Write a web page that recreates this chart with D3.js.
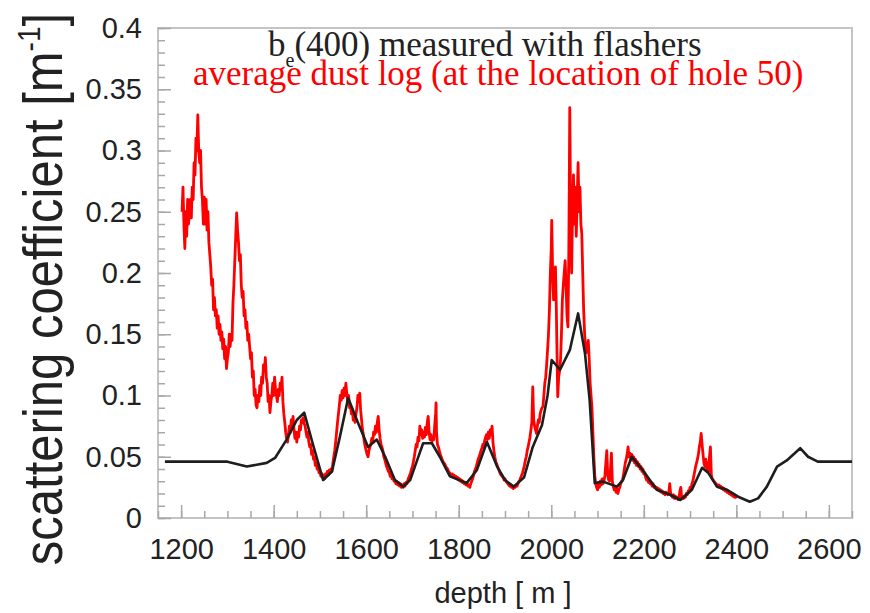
<!DOCTYPE html>
<html>
<head>
<meta charset="utf-8">
<script src="https://cdn.jsdelivr.net/npm/d3@7"></script>
<style>
  body { margin: 0; background: #fff; }
</style>
</head>
<body>
<script>
// axis ticks and labels
const depthTicks = [1200, 1400, 1600, 1800, 2000, 2200, 2400, 2600];
const depthLabels = ["1200", "1400", "1600", "1800", "2000", "2200", "2400", "2600"];
const coefTicks = [0, 0.05, 0.1, 0.15, 0.2, 0.25, 0.3, 0.35, 0.4];
const coefLabels = ["0", "0.05", "0.1", "0.15", "0.2", "0.25", "0.3", "0.35", "0.4"];

// b_e(400) measured with flashers: [depth, coefficient]
const flasherLog = [
  [1165, 0.046], [1300, 0.046], [1342, 0.042], [1385, 0.045], [1403, 0.049], [1428, 0.064],
  [1450, 0.080], [1466, 0.086], [1485, 0.060], [1507, 0.031], [1526, 0.038], [1543, 0.066],
  [1561, 0.098], [1582, 0.078], [1604, 0.058], [1623, 0.064], [1641, 0.050], [1662, 0.031],
  [1680, 0.0256], [1695, 0.031], [1710, 0.047], [1723, 0.061], [1742, 0.061], [1759, 0.050],
  [1781, 0.034], [1817, 0.0285], [1839, 0.039], [1861, 0.062], [1883, 0.042], [1900, 0.031],
  [1919, 0.0256], [1941, 0.033], [1960, 0.058], [1980, 0.076], [1992, 0.100], [2001, 0.129],
  [2019, 0.121], [2040, 0.137], [2058, 0.167], [2073, 0.134], [2083, 0.096], [2094, 0.0285],
  [2112, 0.0297], [2142, 0.0256], [2155, 0.031], [2174, 0.050], [2198, 0.039], [2228, 0.023],
  [2257, 0.019], [2279, 0.0147], [2304, 0.023], [2326, 0.041], [2339, 0.037], [2358, 0.0256],
  [2380, 0.023], [2404, 0.0174], [2429, 0.0133], [2447, 0.016], [2466, 0.0256], [2488, 0.042],
  [2509, 0.047], [2538, 0.057], [2555, 0.050], [2576, 0.046], [2650, 0.046]
];

// average dust log at the location of hole 50: [depth, coefficient]
const dustLog = [
  [1202, 0.25], [1204, 0.27], [1206, 0.24], [1208, 0.22], [1210, 0.25], [1212, 0.23], [1214, 0.26],
  [1216, 0.24], [1218, 0.25], [1220, 0.26], [1222, 0.245], [1224, 0.27], [1226, 0.26], [1228, 0.29],
  [1230, 0.28], [1232, 0.31], [1234, 0.30], [1236, 0.329], [1238, 0.30], [1240, 0.29], [1242, 0.30],
  [1244, 0.27], [1246, 0.26], [1248, 0.24], [1250, 0.262], [1252, 0.24], [1254, 0.26], [1256, 0.235],
  [1258, 0.25], [1260, 0.225], [1262, 0.215], [1264, 0.205], [1266, 0.19], [1268, 0.195], [1270, 0.17],
  [1272, 0.18], [1274, 0.165], [1276, 0.17], [1278, 0.155], [1280, 0.165], [1282, 0.15], [1284, 0.158],
  [1286, 0.145], [1288, 0.152], [1290, 0.138], [1292, 0.146], [1294, 0.13], [1296, 0.14], [1298, 0.122],
  [1300, 0.13], [1302, 0.135], [1304, 0.15], [1306, 0.14], [1308, 0.15], [1310, 0.145], [1312, 0.175],
  [1314, 0.19], [1316, 0.21], [1318, 0.23], [1320, 0.249], [1322, 0.235], [1324, 0.225], [1326, 0.21],
  [1328, 0.215], [1330, 0.19], [1332, 0.18], [1334, 0.185], [1336, 0.165], [1338, 0.17], [1340, 0.155],
  [1342, 0.16], [1344, 0.145], [1346, 0.15], [1348, 0.14], [1350, 0.13], [1352, 0.135], [1354, 0.115],
  [1356, 0.12], [1358, 0.10], [1360, 0.105], [1362, 0.092], [1364, 0.09], [1366, 0.10], [1368, 0.095],
  [1370, 0.108], [1372, 0.10], [1374, 0.115], [1376, 0.11], [1378, 0.125], [1380, 0.12], [1382, 0.131],
  [1384, 0.115], [1386, 0.11], [1388, 0.095], [1390, 0.10], [1392, 0.086], [1394, 0.095], [1396, 0.10],
  [1398, 0.11], [1400, 0.10], [1402, 0.115], [1404, 0.105], [1406, 0.10], [1408, 0.095], [1410, 0.105],
  [1412, 0.10], [1414, 0.11], [1416, 0.105], [1418, 0.115], [1420, 0.095], [1422, 0.085], [1424, 0.078],
  [1426, 0.07], [1428, 0.065], [1430, 0.062], [1432, 0.068], [1434, 0.075], [1436, 0.07], [1438, 0.08],
  [1440, 0.076], [1442, 0.083], [1444, 0.072], [1446, 0.065], [1448, 0.07], [1450, 0.062], [1452, 0.07],
  [1454, 0.066], [1456, 0.075], [1458, 0.072], [1460, 0.08], [1462, 0.078], [1464, 0.082], [1466, 0.077],
  [1468, 0.075], [1470, 0.07], [1472, 0.066], [1474, 0.07], [1476, 0.062], [1478, 0.058], [1480, 0.06],
  [1482, 0.052], [1484, 0.055], [1486, 0.048], [1488, 0.05], [1490, 0.043], [1492, 0.045], [1494, 0.04],
  [1496, 0.042], [1498, 0.037], [1500, 0.038], [1502, 0.034], [1504, 0.036], [1506, 0.033], [1508, 0.035],
  [1510, 0.032], [1512, 0.036], [1514, 0.034], [1516, 0.038], [1518, 0.035], [1520, 0.039], [1522, 0.037],
  [1524, 0.04], [1526, 0.038], [1528, 0.045], [1530, 0.05], [1532, 0.055], [1534, 0.062], [1536, 0.07],
  [1538, 0.078], [1540, 0.085], [1542, 0.092], [1544, 0.10], [1546, 0.096], [1548, 0.104], [1550, 0.098],
  [1552, 0.106], [1554, 0.10], [1556, 0.11], [1558, 0.102], [1560, 0.095], [1562, 0.10], [1564, 0.09],
  [1566, 0.092], [1568, 0.085], [1570, 0.088], [1572, 0.08], [1574, 0.083], [1576, 0.078], [1578, 0.085],
  [1580, 0.09], [1582, 0.10], [1584, 0.095], [1586, 0.102], [1588, 0.088], [1590, 0.08], [1592, 0.072],
  [1594, 0.068], [1596, 0.062], [1598, 0.058], [1600, 0.055], [1602, 0.052], [1604, 0.05], [1606, 0.055],
  [1608, 0.058], [1610, 0.06], [1612, 0.065], [1614, 0.062], [1616, 0.07], [1618, 0.068], [1620, 0.075],
  [1622, 0.07], [1624, 0.078], [1626, 0.083], [1628, 0.072], [1630, 0.065], [1632, 0.06], [1634, 0.058],
  [1636, 0.055], [1638, 0.05], [1640, 0.048], [1642, 0.045], [1644, 0.042], [1646, 0.04], [1648, 0.038],
  [1650, 0.037], [1652, 0.034], [1654, 0.035], [1656, 0.032], [1658, 0.033], [1660, 0.03], [1662, 0.031],
  [1664, 0.028], [1666, 0.03], [1668, 0.027], [1670, 0.029], [1672, 0.026], [1674, 0.028], [1676, 0.025],
  [1678, 0.027], [1680, 0.025], [1682, 0.028], [1684, 0.026], [1686, 0.029], [1688, 0.028], [1690, 0.031],
  [1692, 0.033], [1694, 0.035], [1696, 0.037], [1698, 0.04], [1700, 0.042], [1702, 0.046], [1704, 0.05],
  [1706, 0.055], [1708, 0.06], [1710, 0.058], [1712, 0.066], [1714, 0.063], [1716, 0.075], [1718, 0.068],
  [1720, 0.072], [1722, 0.065], [1724, 0.07], [1726, 0.066], [1728, 0.074], [1730, 0.068], [1732, 0.078],
  [1734, 0.083], [1736, 0.07], [1738, 0.064], [1740, 0.068], [1742, 0.062], [1744, 0.066], [1746, 0.064],
  [1748, 0.075], [1750, 0.085], [1751, 0.094], [1752, 0.07], [1754, 0.06], [1756, 0.058], [1758, 0.055],
  [1760, 0.052], [1762, 0.05], [1764, 0.048], [1766, 0.046], [1768, 0.045], [1770, 0.044], [1772, 0.042],
  [1774, 0.041], [1776, 0.04], [1778, 0.038], [1780, 0.037], [1782, 0.036], [1784, 0.035], [1786, 0.036],
  [1788, 0.034], [1790, 0.035], [1792, 0.033], [1794, 0.034], [1796, 0.032], [1798, 0.033], [1800, 0.031],
  [1802, 0.032], [1804, 0.03], [1806, 0.031], [1808, 0.029], [1810, 0.03], [1812, 0.028], [1814, 0.029],
  [1816, 0.027], [1818, 0.028], [1820, 0.026], [1822, 0.027], [1824, 0.025], [1826, 0.028], [1828, 0.03],
  [1830, 0.032], [1832, 0.035], [1834, 0.038], [1836, 0.04], [1838, 0.042], [1840, 0.045], [1842, 0.048],
  [1844, 0.05], [1846, 0.052], [1848, 0.055], [1850, 0.057], [1852, 0.06], [1854, 0.058], [1856, 0.063],
  [1858, 0.066], [1860, 0.068], [1862, 0.064], [1864, 0.07], [1866, 0.065], [1868, 0.072], [1870, 0.068],
  [1872, 0.075], [1874, 0.062], [1876, 0.055], [1878, 0.05], [1880, 0.046], [1882, 0.044], [1884, 0.042],
  [1886, 0.04], [1888, 0.038], [1890, 0.036], [1892, 0.035], [1894, 0.034], [1896, 0.033], [1898, 0.031],
  [1900, 0.032], [1902, 0.03], [1904, 0.029], [1906, 0.028], [1908, 0.027], [1910, 0.026], [1912, 0.027],
  [1914, 0.025], [1916, 0.026], [1918, 0.024], [1920, 0.026], [1922, 0.025], [1924, 0.027], [1926, 0.026],
  [1928, 0.028], [1930, 0.03], [1932, 0.031], [1934, 0.033], [1936, 0.035], [1938, 0.037], [1940, 0.04],
  [1942, 0.043], [1944, 0.047], [1946, 0.05], [1948, 0.055], [1950, 0.058], [1952, 0.062], [1954, 0.066],
  [1956, 0.072], [1958, 0.078], [1960, 0.107], [1962, 0.08], [1964, 0.075], [1966, 0.072], [1968, 0.069],
  [1970, 0.075], [1972, 0.08], [1974, 0.078], [1976, 0.085], [1978, 0.088], [1980, 0.09], [1982, 0.091],
  [1984, 0.10], [1986, 0.11], [1988, 0.115], [1990, 0.125], [1992, 0.137], [1994, 0.15], [1996, 0.17],
  [1998, 0.20], [2000, 0.22], [2001, 0.243], [2003, 0.20], [2005, 0.178], [2007, 0.19], [2009, 0.205],
  [2011, 0.17], [2013, 0.12], [2014, 0.099], [2016, 0.115], [2018, 0.12], [2020, 0.129], [2022, 0.15],
  [2024, 0.178], [2026, 0.19], [2028, 0.20], [2030, 0.21], [2032, 0.19], [2034, 0.165], [2036, 0.156],
  [2038, 0.22], [2040, 0.335], [2042, 0.24], [2044, 0.20], [2046, 0.25], [2048, 0.28], [2050, 0.24],
  [2052, 0.27], [2054, 0.23], [2056, 0.26], [2058, 0.29], [2060, 0.25], [2062, 0.27], [2064, 0.24],
  [2066, 0.232], [2068, 0.20], [2070, 0.17], [2072, 0.151], [2074, 0.14], [2076, 0.135], [2078, 0.14],
  [2080, 0.145], [2082, 0.13], [2084, 0.11], [2086, 0.10], [2088, 0.09], [2090, 0.07], [2092, 0.05],
  [2094, 0.035], [2096, 0.028], [2098, 0.025], [2100, 0.023], [2102, 0.028], [2104, 0.025], [2106, 0.03],
  [2108, 0.027], [2110, 0.032], [2112, 0.028], [2114, 0.03], [2116, 0.035], [2118, 0.045], [2120, 0.055],
  [2122, 0.035], [2124, 0.031], [2126, 0.03], [2128, 0.04], [2130, 0.053], [2132, 0.03], [2134, 0.026],
  [2136, 0.023], [2138, 0.025], [2140, 0.021], [2142, 0.024], [2144, 0.02], [2146, 0.023], [2148, 0.025],
  [2150, 0.028], [2152, 0.03], [2154, 0.031], [2156, 0.035], [2158, 0.04], [2160, 0.045], [2162, 0.048],
  [2164, 0.052], [2166, 0.058], [2168, 0.05], [2170, 0.053], [2172, 0.048], [2174, 0.052], [2176, 0.047],
  [2178, 0.05], [2180, 0.045], [2182, 0.048], [2184, 0.043], [2186, 0.046], [2188, 0.042], [2190, 0.044],
  [2192, 0.04], [2194, 0.042], [2196, 0.038], [2198, 0.04], [2200, 0.036], [2202, 0.037], [2204, 0.033],
  [2206, 0.031], [2208, 0.032], [2210, 0.029], [2212, 0.03], [2214, 0.028], [2216, 0.029], [2218, 0.026],
  [2220, 0.028], [2222, 0.025], [2224, 0.026], [2226, 0.024], [2228, 0.025], [2230, 0.023], [2232, 0.024],
  [2234, 0.022], [2236, 0.023], [2238, 0.021], [2240, 0.022], [2242, 0.02], [2244, 0.021], [2246, 0.019],
  [2248, 0.021], [2250, 0.02], [2252, 0.019], [2254, 0.02], [2256, 0.028], [2258, 0.02], [2260, 0.018],
  [2262, 0.017], [2264, 0.019], [2266, 0.016], [2268, 0.018], [2270, 0.016], [2272, 0.017], [2274, 0.015],
  [2276, 0.016], [2278, 0.022], [2280, 0.025], [2282, 0.016], [2284, 0.017], [2286, 0.016], [2288, 0.018],
  [2290, 0.017], [2292, 0.02], [2294, 0.019], [2296, 0.022], [2298, 0.021], [2300, 0.025], [2302, 0.024],
  [2304, 0.028], [2306, 0.03], [2308, 0.034], [2310, 0.038], [2312, 0.042], [2314, 0.045], [2316, 0.048],
  [2318, 0.052], [2320, 0.058], [2322, 0.062], [2324, 0.069], [2326, 0.06], [2328, 0.052], [2330, 0.045],
  [2332, 0.042], [2334, 0.048], [2336, 0.04], [2338, 0.045], [2340, 0.038], [2342, 0.05], [2344, 0.058],
  [2346, 0.035], [2348, 0.032], [2350, 0.031], [2352, 0.03], [2354, 0.029], [2356, 0.028], [2358, 0.027],
  [2360, 0.026], [2362, 0.027], [2364, 0.025], [2366, 0.026], [2368, 0.024], [2370, 0.025], [2372, 0.023],
  [2374, 0.024], [2376, 0.022], [2378, 0.023], [2380, 0.021], [2382, 0.022], [2384, 0.02], [2386, 0.021],
  [2388, 0.019], [2390, 0.02], [2392, 0.018], [2394, 0.019], [2396, 0.017], [2398, 0.018], [2400, 0.016]
];

const width = 870, height = 613;
const plot = { left: 158, right: 852, top: 28, bottom: 518 };

const svg = d3.select("body")
  .append("svg")
  .attr("width", width)
  .attr("height", height);

const x = d3.scaleLinear().domain([1150, 2650]).range([plot.left, plot.right]);
const y = d3.scaleLinear().domain([0, 0.4]).range([plot.bottom, plot.top]);

// frame round the plot
svg.append("rect")
  .attr("x", plot.left)
  .attr("y", plot.top)
  .attr("width", plot.right - plot.left)
  .attr("height", plot.bottom - plot.top)
  .attr("fill", "none")
  .attr("stroke", "#c4c4c4")
  .attr("stroke-width", 2);

function styleAxis(g) {
  g.select(".domain").remove();
  g.selectAll(".tick line").attr("stroke", "#a8a8a8").attr("stroke-width", 1.5);
  g.selectAll(".tick text")
    .attr("fill", "#222")
    .style("font-family", "'Liberation Sans', Arial, sans-serif")
    .style("font-size", "29px");
}

// minor ticks, pointing inwards
svg.append("g")
  .attr("transform", `translate(0,${plot.bottom})`)
  .call(d3.axisBottom(x).tickValues(d3.range(1150, 2651, 50)).tickSize(-7).tickSizeOuter(0).tickFormat(""))
  .call(styleAxis);
svg.append("g")
  .attr("transform", `translate(${plot.left},0)`)
  .call(d3.axisLeft(y).tickValues(d3.range(0, 0.401, 0.01)).tickSize(-7).tickSizeOuter(0).tickFormat(""))
  .call(styleAxis);

// major ticks with labels
svg.append("g")
  .attr("transform", `translate(0,${plot.bottom})`)
  .call(d3.axisBottom(x).tickValues(depthTicks).tickSize(-13).tickSizeOuter(0).tickPadding(20)
    .tickFormat((d, i) => depthLabels[i]))
  .call(styleAxis);
svg.append("g")
  .attr("transform", `translate(${plot.left},0)`)
  .call(d3.axisLeft(y).tickValues(coefTicks).tickSize(-13).tickSizeOuter(0).tickPadding(16)
    .tickFormat((d, i) => coefLabels[i]))
  .call(styleAxis);

// the two curves
const line = d3.line()
  .x(d => x(d[0]))
  .y(d => y(d[1]));

svg.append("path")
  .datum(dustLog)
  .attr("fill", "none")
  .attr("stroke", "#ff0000")
  .attr("stroke-width", 2.8)
  .attr("stroke-linejoin", "round")
  .attr("d", line);

svg.append("path")
  .datum(flasherLog)
  .attr("fill", "none")
  .attr("stroke", "#1e1e1e")
  .attr("stroke-width", 2.6)
  .attr("stroke-linejoin", "round")
  .attr("d", line);

// legend text
const title = svg.append("g")
  .style("font-family", "'Liberation Serif', 'Times New Roman', serif")
  .style("font-size", "35px");

const t1 = title.append("text").attr("x", 268).attr("y", 56).attr("fill", "#222");
t1.append("tspan").text("b");
t1.append("tspan").attr("dy", 11).style("font-size", "20px").text("e");
t1.append("tspan").attr("dy", -11).text("(400) measured with flashers");

title.append("text")
  .attr("x", 193)
  .attr("y", 85)
  .attr("fill", "#ff0000")
  .text("average dust log (at the location of hole 50)");

// axis titles
svg.append("text")
  .attr("x", 503)
  .attr("y", 603)
  .attr("text-anchor", "middle")
  .attr("fill", "#222")
  .style("font-family", "'Liberation Sans', Arial, sans-serif")
  .style("font-size", "29px")
  .text("depth [ m ]");

const yTitle = svg.append("text")
  .attr("transform", "translate(62,289) rotate(-90) scale(1,1.12)")
  .attr("text-anchor", "middle")
  .attr("fill", "#222")
  .style("font-family", "'Liberation Sans', Arial, sans-serif")
  .style("font-size", "49px");
yTitle.append("tspan").text("scattering coefficient [m");
yTitle.append("tspan").attr("dy", -20).style("font-size", "28px").text("-1");
yTitle.append("tspan").attr("dy", 20).text("]");
</script>
</body>
</html>
